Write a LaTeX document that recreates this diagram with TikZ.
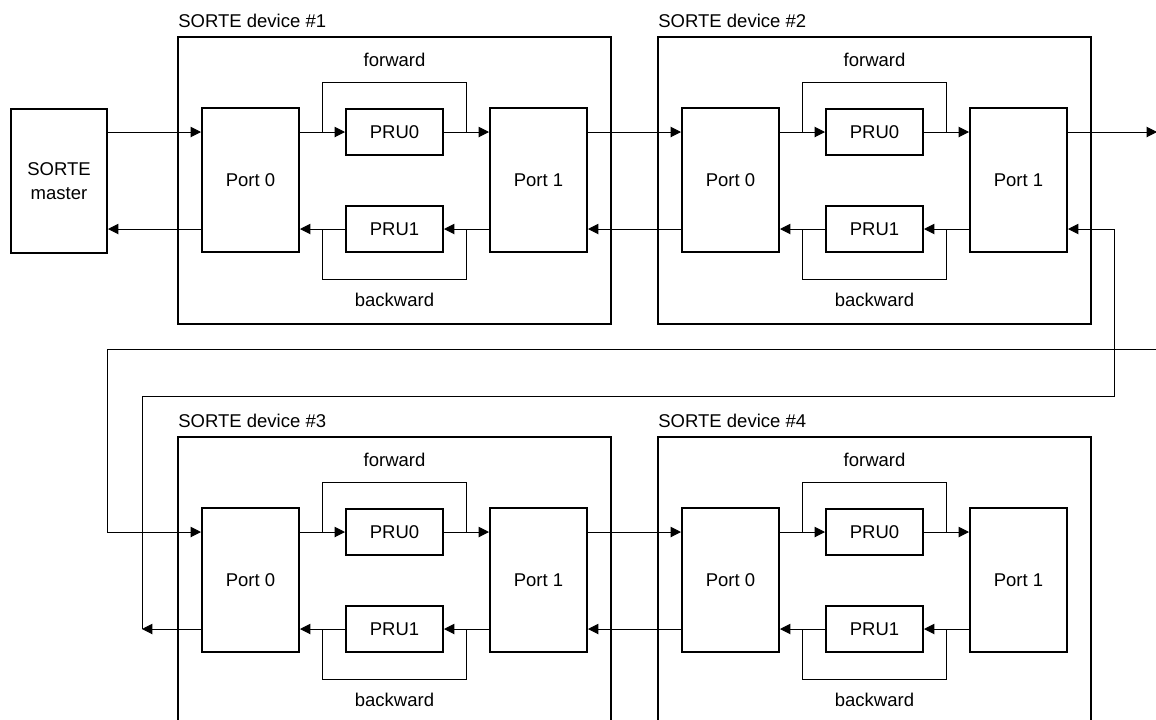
\documentclass[tikz,border=0pt]{standalone}
\usepackage{fontspec}
\setmainfont{Liberation Sans}
\usetikzlibrary{positioning}
\usetikzlibrary{arrows.meta}

\tikzset{
  txt/.style={font=\fontsize{9.25}{12}\selectfont, inner sep=0pt},
  devbox/.style={draw, line width=1pt, minimum width=216.5pt, minimum height=143.5pt, inner sep=0pt},
  portbox/.style={draw, line width=1pt, minimum width=48.5pt, minimum height=72pt, inner sep=0pt, txt, align=center},
  prubox/.style={draw, line width=1pt, minimum width=48.5pt, minimum height=23pt, inner sep=0pt, txt},
  wire/.style={line width=0.5pt},
  arr/.style={wire, -{Triangle[length=5.2pt,width=5.2pt]}}
}

\begin{document}
\begin{tikzpicture}[x=0.5pt, y=-0.5pt]
  \clip (0,0) rectangle (1156,719);

  % Master
  \node[portbox, minimum width=48pt] (master) at (59,181) {SORTE\\master};

  % Devices
  \foreach \n/\ox/\oy in {1/0/0, 2/480/0, 3/0/400, 4/480/400} {
    \begin{scope}[shift={(\ox,\oy)}]
      \node[devbox] (dev-\n) at (394.5,180.5) {};
      \node[txt, anchor=base west] (title-\n) at (178,27) {SORTE device \#\n};
      \node[txt] (fwd-\n) at (394.5,60) {forward};
      \node[txt] (bwd-\n) at (394.5,300) {backward};

      \node[portbox] (p0-\n) at (250.5,180) {Port 0};
      \node[portbox] (p1-\n) at (538.5,180) {Port 1};
      \node[prubox] (pru0-\n) at (394.5,132) {PRU0};
      \node[prubox] (pru1-\n) at (394.5,229) {PRU1};

      % forward path
      \coordinate (fa-\n) at (322.5,132);
      \coordinate (fb-\n) at (466.5,132);
      \draw[arr] (p0-\n.east |- pru0-\n) -- (pru0-\n.west);
      \draw[arr] (pru0-\n.east) -- (p1-\n.west |- pru0-\n);
      \draw[wire] (fa-\n) -- ++(0,-50) -| (fb-\n);

      % backward path
      \coordinate (ba-\n) at (322.5,229);
      \coordinate (bb-\n) at (466.5,229);
      \draw[arr] (p1-\n.west |- pru1-\n) -- (pru1-\n.east);
      \draw[arr] (pru1-\n.west) -- (p0-\n.east |- pru1-\n);
      \draw[wire] (ba-\n) -- ++(0,50) -| (bb-\n);
    \end{scope}
  }

  % Master <-> device 1
  \draw[arr] (master.east |- pru0-1) -- (p0-1.west |- pru0-1);
  \draw[arr] (p0-1.west |- pru1-1) -- (master.east |- pru1-1);

  % Device 1 <-> device 2
  \draw[arr] (p1-1.east |- pru0-1) -- (p0-2.west |- pru0-2);
  \draw[arr] (p0-2.west |- pru1-2) -- (p1-1.east |- pru1-1);

  % Device 3 <-> device 4
  \draw[arr] (p1-3.east |- pru0-3) -- (p0-4.west |- pru0-4);
  \draw[arr] (p0-4.west |- pru1-4) -- (p1-3.east |- pru1-3);

  % Out of device 2, back into device 3
  \coordinate (out) at (1157,132);
  \draw[arr] (p1-2.east |- pru0-2) -- (out);
  \coordinate (wrapin) at (1160,349);
  \coordinate (wa) at (107,349);
  \draw[arr] (wrapin) -- (wa) |- (p0-3.west |- pru0-3);

  % Return from device 3 to device 2
  \coordinate (wb) at (142,396);
  \coordinate (wc) at (1114,396);
  \draw[arr] (p0-3.west |- pru1-3) -- (wb |- pru1-3);
  \draw[arr] (wb |- pru1-3) -- (wb) -- (wc) |- (p1-2.east |- pru1-2);
\end{tikzpicture}
\end{document}
